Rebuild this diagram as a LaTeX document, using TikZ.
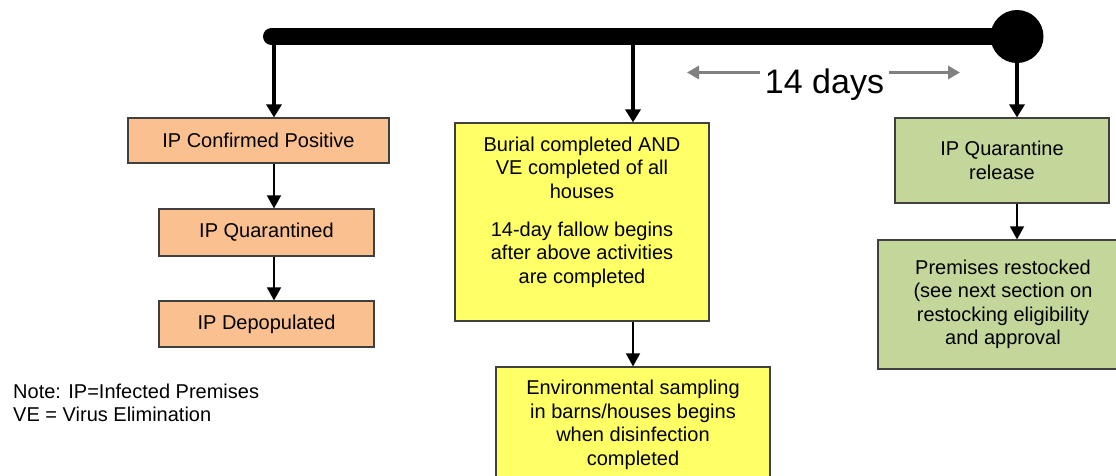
\documentclass[tikz,border=0pt]{standalone}
\usepackage{fontspec}
\setmainfont{Liberation Sans}
\usetikzlibrary{arrows.meta}
\definecolor{ipOrange}{RGB}{250,192,144}
\definecolor{veYellow}{RGB}{255,255,102}
\definecolor{relGreen}{RGB}{196,215,155}
\definecolor{boxLine}{RGB}{64,64,64}
\definecolor{spanGray}{RGB}{128,128,128}
\newcommand\boxfont{\fontsize{20}{23.5}\selectfont}
\newcommand\daysfont{\fontsize{34}{40}\selectfont}
\begin{document}
\begin{tikzpicture}[x=1pt,y=-1pt,
  box/.style={draw=boxLine, line width=1.2pt, inner sep=0pt, align=center, font=\boxfont},
  plaintext/.style={inner sep=0pt, align=center, font=\boxfont},
  bigarr/.style={line width=4pt, -{Triangle[width=15pt,length=13pt]}},
  smallarr/.style={line width=1.5pt, -{Triangle[width=14pt,length=13pt]}},
  grayarr/.style={draw=spanGray, line width=3pt, -{Triangle[width=13pt,length=12pt]}}]
\useasboundingbox (0,0) rectangle (1116,475);
\clip (0,0) rectangle (1116,475);

% timeline
\coordinate (barL) at (271.5,36.5);
\coordinate (c1) at (274,36.5);
\coordinate (c2) at (633,36.5);
\node[circle, fill=black, minimum size=53pt, inner sep=0pt] (endpt) at (1017,36.5) {};
\draw[line width=17pt, line cap=round] (barL) -- (endpt.center);

% left column
\node[box, fill=ipOrange, minimum width=261pt, minimum height=45pt] (o1) at (258.5,140.5) {IP Confirmed Positive};
\node[box, fill=ipOrange, minimum width=215pt, minimum height=47pt] (o2) at (266.5,232.5) {IP Quarantined};
\node[box, fill=ipOrange, minimum width=215pt, minimum height=46pt] (o3) at (266.5,324) {IP Depopulated};

% middle column
\node[box, fill=veYellow, minimum width=254pt, minimum height=198pt] (y1) at (582,222) {};
\node[plaintext] (y1t) at (582,212) {Burial completed AND\\VE completed of all\\houses\\[14.5pt]14-day fallow begins\\after above activities\\are completed};
\node[box, fill=veYellow, minimum width=274pt, minimum height=116pt] (y2) at (633,425) {Environmental sampling\\in barns/houses begins\\when disinfection\\completed};

% right column
\node[box, fill=relGreen, minimum width=214pt, minimum height=85pt] (g1) at (1002,160.5) {IP Quarantine\\release};
\node[box, fill=relGreen, minimum width=250pt, minimum height=129pt] (g2) at (1003,304.5) {Premises restocked\\(see next section on\\restocking eligibility\\and approval};

% 14 days span
\coordinate (dL) at (687,72.5);
\coordinate (dR) at (960,72.5);
\node[inner sep=0pt, anchor=base, font=\daysfont] (days) at (824.5,93) {14 days};
\draw[grayarr] ([xshift=-5pt]days.west |- dL) -- (dL);
\draw[grayarr] ([xshift=5pt]days.east |- dR) -- (dR);

% connectors
\draw[bigarr] (c1) -- (c1 |- o1.north);
\draw[bigarr] (c2) -- (c2 |- y1.north);
\draw[bigarr] (endpt.south) -- (endpt.south |- g1.north);
\draw[smallarr] (o1.south -| c1) -- (o2.north -| c1);
\draw[smallarr] (o2.south -| c1) -- (o3.north -| c1);
\draw[smallarr] (y2.north |- y1.south) -- (y2.north);
\draw[smallarr] (g1.south -| endpt) -- (g2.north -| endpt);

% note
\node[plaintext, align=left, anchor=north west] (note) at (13,383.5) {Note: IP=Infected Premises\\VE = Virus Elimination};
\end{tikzpicture}
\end{document}
